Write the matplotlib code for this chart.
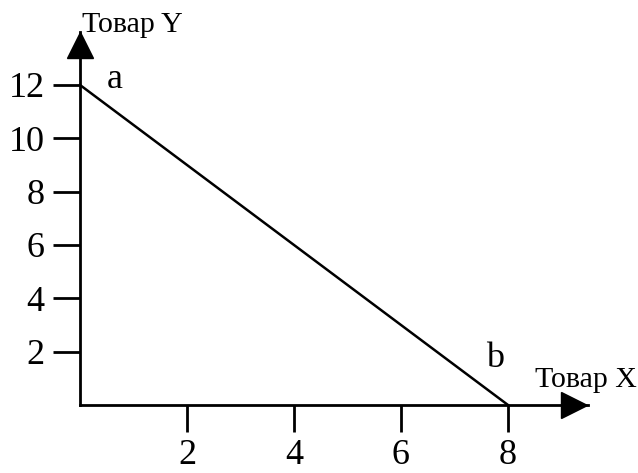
import matplotlib
matplotlib.use("Agg")
import matplotlib.pyplot as plt

# budget line endpoints (Товар X, Товар Y)
line_x = [0, 8]
line_y = [12, 0]
x_ticks = [2, 4, 6, 8]
y_ticks = [2, 4, 6, 8, 10, 12]
point_labels = ["a", "b"]

plt.rcParams['font.family'] = ['Liberation Serif', 'DejaVu Serif']

fig = plt.figure(figsize=(6.38, 4.73), dpi=100)
ax = fig.add_axes([0.1254, 0.1438, 0.7966, 0.7893])
ax.set_xlim(0, 9.5)
ax.set_ylim(0, 14)

for s in ['top', 'right']:
    ax.spines[s].set_visible(False)
for s in ['left', 'bottom']:
    ax.spines[s].set_linewidth(2.0)

ax.plot(line_x, line_y, color='black', lw=1.8, clip_on=False)

# arrow heads
ax.plot([0], [13.5], marker='^', ms=19, color='black', clip_on=False)
ax.plot([9.23], [0], marker='>', ms=19, color='black', clip_on=False)

ax.set_xticks(x_ticks)
ax.set_yticks(y_ticks)
ax.tick_params(axis='both', length=19.5, width=2.0, labelsize=26, colors='black')
ax.tick_params(axis='x', pad=5)
ax.tick_params(axis='y', pad=6)

ax.text(0.65, 12.2, point_labels[0], fontsize=26, ha='center', va='center')
ax.text(7.76, 1.75, point_labels[1], fontsize=26, ha='center', va='center')

ax.text(0.03, 14.0, "Товар Y", fontsize=21.5, ha='left', va='baseline', clip_on=False)
ax.text(8.5, 0.68, "Товар X", fontsize=21.5, ha='left', va='baseline', clip_on=False)

fig.savefig("out.png", dpi=100)
